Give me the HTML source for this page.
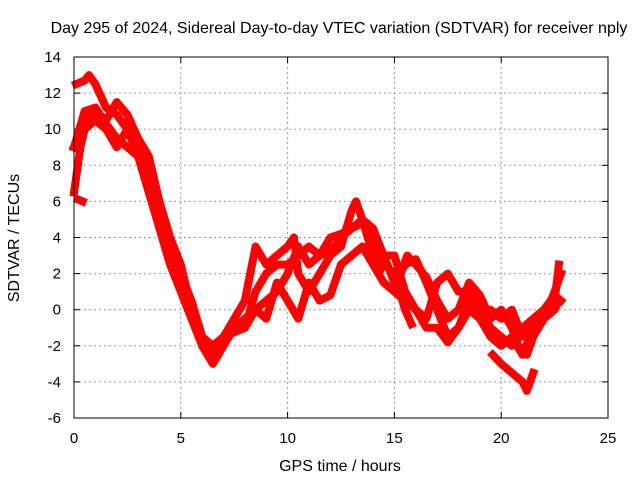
<!DOCTYPE html>
<html><head><meta charset="utf-8"><style>
body{margin:0;background:#fff}
svg{display:block;font-family:"Liberation Sans",sans-serif}
</style></head><body>
<svg id="chart" width="640" height="480">
<text x="339" y="33" font-size="16" text-anchor="middle">Day 295 of 2024, Sidereal Day-to-day VTEC variation (SDTVAR) for receiver nply</text>
<text x="340" y="471" font-size="16" text-anchor="middle">GPS time / hours</text>
<text transform="translate(19,238) rotate(-90)" font-size="16" text-anchor="middle">SDTVAR / TECUs</text>
<g id="grid"></g><g id="ticks"></g><g id="series"></g>
<rect x="74" y="57" width="534" height="361" fill="none" stroke="#000" stroke-width="1"/>
</svg>
<script>
const xTicks=[0,5,10,15,20,25];
const yTicks=[-6,-4,-2,0,2,4,6,8,10,12,14];
const seriesA=[[0,6.5],[0.3,9],[0.6,10.5],[1,11],[1.5,10.5],[2,11.5],[2.5,10.8],[3,9.5],[3.5,8.5],[4,6],[4.5,4],[5,2.5],[5.5,0],[6,-2],[6.5,-3],[7,-2],[7.5,-1],[8,-1],[8.5,1],[9,2],[9.5,2.5],[10,2.5],[10.5,3],[11,3.5],[11.5,3],[12,4],[12.5,4.2],[13,4.5],[13.5,5],[14,3],[14.5,2.5],[15,2],[15.5,0],[15.8,-0.8]];
const seriesB=[[0.1,12.5],[0.5,12.7],[0.7,13],[1,12.5],[1.5,11.2],[2,10.8],[2.5,10],[3,9],[3.5,7],[4,5],[4.5,3.5],[5,2],[5.5,0.5],[6,-1.5],[6.5,-2.5],[7,-1.5],[7.5,-0.5],[8,0.5],[8.5,3.5],[9,2.5],[9.5,3],[10,3.5],[10.3,4],[10.5,2],[11,1],[11.5,2],[12,3],[12.5,3.5],[13,5.5],[13.2,6],[13.5,5],[14,4.5],[14.5,3],[15,1.5],[15.5,2.5],[16,2.8],[16.5,1.5],[17,0],[17.5,-1.5],[18,-1],[18.5,0.5],[19,0],[19.5,-1],[20,-1.5],[20.5,-2],[21,-1],[21.5,-0.5],[22,0],[22.5,0.5],[22.7,2.5]];
const seriesC=[[0,9],[0.5,10],[1,10.5],[1.5,10],[2,9],[2.5,10],[3,8.5],[3.5,7.5],[4,5],[4.5,3],[5,1.5],[5.5,-0.5],[6,-1.5],[6.5,-2],[7,-1.5],[8,-1],[8.5,0],[9,-0.5],[9.5,1.5],[10,0.5],[10.5,-0.5],[11,1.5],[11.5,0.5],[12,0.8],[12.5,2.5],[13,3],[13.5,3.5],[14,2.5],[14.5,1.5],[15,1],[15.5,0.5],[16,0],[16.5,-1],[17,-1],[17.5,-1.8],[18,-1],[18.5,0],[19,-0.5],[19.5,-1.5],[20,-2],[20.5,-1.5],[21,-2.5],[21.5,-1],[22,0],[22.5,0.8],[22.8,0.5]];
const seriesD=[[0,9],[0.5,11],[1,11.2],[1.5,10.3],[2,9.5],[2.5,9],[3,8.5],[3.5,6.5],[4,4.5],[4.5,2.5],[5,1],[5.5,-0.5],[6,-2],[6.5,-2.8],[7,-1.8],[7.5,-1],[8,-0.5],[8.5,0],[9,0.5],[9.5,1],[10,2],[10.5,3.5],[11,2.5],[11.5,3],[12,3.2],[12.5,4],[13,4.5],[13.5,4.8],[14,4],[14.3,2],[14.5,3],[15,3],[15.5,1],[16,0],[16.5,-0.5],[17,1.5],[17.5,2],[18,1],[18.5,1],[19,0],[19.5,0],[20,-0.5],[20.5,0],[21,-1.5],[21.5,-1],[22,-0.5],[22.5,0],[22.7,0.5]];
const seriesE=[[19.6,-2.5],[20,-3],[20.5,-3.5],[21,-4],[21.2,-4.5],[21.5,-3.5]];
const seriesF=[[15.3,2],[15.6,3],[16,2.5],[16.5,1.8],[17,0.5],[17.5,-0.5],[18,0],[18.5,1.5],[19,0.8],[19.5,-0.5],[20,0],[20.5,-1],[20.8,-2],[21.2,-2.5],[21.5,-1.5],[22,-0.5],[22.5,1],[22.8,2]];
const seriesG=[[0.2,6.1],[0.4,6]];
const allSeries=[seriesA,seriesB,seriesC,seriesD,seriesE,seriesF,seriesG];
const NS="http://www.w3.org/2000/svg";
const X=v=>74+v*(534/25), Y=v=>418-(v+6)*(361/20);
const grid=document.getElementById('grid'),ticks=document.getElementById('ticks'),ser=document.getElementById('series');
function mk(t,a,p){const e=document.createElementNS(NS,t);for(const k in a)e.setAttribute(k,a[k]);p.appendChild(e);return e;}
xTicks.forEach(t=>{const x=X(t);
 if(t>0&&t<25){const g=mk('line',{x1:x,x2:x,y1:57,y2:418,stroke:'#999','stroke-dasharray':'2,3'},grid);
 
 }
 const l=mk('text',{x:x,y:443,'font-size':15,'text-anchor':'middle'},ticks);l.textContent=t;
 
 
 mk('line',{x1:x,x2:x,y1:418,y2:412,stroke:'#000'},ticks);mk('line',{x1:x,x2:x,y1:57,y2:63,stroke:'#000'},ticks);});
yTicks.forEach(t=>{const y=Y(t);
 if(t>-6&&t<14){const g=mk('line',{x1:74,x2:608,y1:y,y2:y,stroke:'#999','stroke-dasharray':'2,3'},grid);
 
 }
 const l=mk('text',{x:61,y:y+5,'font-size':15,'text-anchor':'end'},ticks);l.textContent=t;
 
 
 mk('line',{x1:74,x2:80,y1:y,y2:y,stroke:'#000'},ticks);mk('line',{x1:608,x2:602,y1:y,y2:y,stroke:'#000'},ticks);});
allSeries.forEach((s,i)=>{
 const p=mk('polyline',{points:s.map(d=>X(d[0])+','+Y(d[1])).join(' '),fill:'none',stroke:'#f00','stroke-width':8,'stroke-linejoin':'round','stroke-linecap':'square'},ser);
 
 
});
</script>
</body></html>
